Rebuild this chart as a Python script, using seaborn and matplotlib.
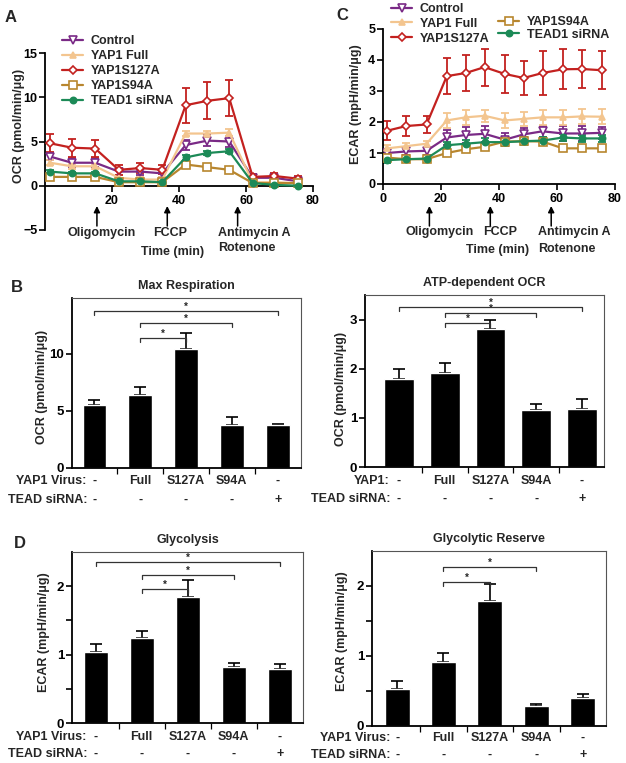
import numpy as np
import pandas as pd
import matplotlib
matplotlib.use('Agg')
import matplotlib.pyplot as plt
import seaborn as sns
from matplotlib import font_manager
from matplotlib.lines import Line2D
from matplotlib.transforms import blended_transform_factory

# time course (min) shared by the seahorse traces
times = [1.5, 8, 15, 22, 28.5, 35, 42, 48.5, 55, 62, 68.5, 75.5]
groups = ['Control', 'YAP1 Full', 'YAP1S127A', 'YAP1S94A', 'TEAD1 siRNA']

# panel A - OCR
ocr_control = [3.3, 2.6, 2.6, 1.6, 1.6, 1.4, 4.6, 5.1, 5.0, 0.9, 0.9, 0.5]
ocr_full = [2.6, 2.2, 2.2, 0.9, 0.7, 0.7, 5.9, 5.9, 6.0, 0.4, 0.4, 0.3]
ocr_s127a = [4.8, 4.3, 4.2, 1.8, 2.0, 1.8, 9.1, 9.6, 9.9, 1.0, 1.1, 0.8]
ocr_s94a = [1.0, 1.0, 1.0, 0.4, 0.4, 0.4, 2.4, 2.1, 1.8, 0.3, 0.3, 0.3]
ocr_tead = [1.6, 1.4, 1.4, 0.5, 0.5, 0.4, 3.2, 3.7, 3.9, 0.3, 0.1, 0.0]
ocr_control_err = [0.4, 0.5, 0.5, 0.4, 0.4, 0.4, 0.6, 0.6, 0.6, 0.3, 0.3, 0.3]
ocr_full_err = [0.3, 0.3, 0.3, 0.3, 0.3, 0.3, 0.3, 0.3, 0.4, 0.2, 0.2, 0.2]
ocr_s127a_err = [1.0, 1.0, 1.0, 0.6, 0.6, 0.5, 2.0, 2.1, 2.0, 0.3, 0.3, 0.3]
ocr_s94a_err = [0.2, 0.2, 0.2, 0.1, 0.1, 0.1, 0.2, 0.2, 0.2, 0.1, 0.1, 0.1]
ocr_tead_err = [0.2, 0.2, 0.2, 0.2, 0.2, 0.2, 0.3, 0.2, 0.2, 0.1, 0.1, 0.1]

# panel C - ECAR
ecar_control = [1.0, 1.05, 1.07, 1.5, 1.58, 1.62, 1.43, 1.6, 1.7, 1.63, 1.63, 1.65]
ecar_full = [1.15, 1.22, 1.3, 2.05, 2.15, 2.2, 2.05, 2.1, 2.15, 2.15, 2.18, 2.17]
ecar_s127a = [1.72, 1.87, 1.92, 3.48, 3.58, 3.77, 3.55, 3.42, 3.58, 3.70, 3.71, 3.67]
ecar_s94a = [0.85, 0.8, 0.8, 1.0, 1.12, 1.2, 1.37, 1.38, 1.37, 1.15, 1.15, 1.15]
ecar_tead = [0.77, 0.8, 0.82, 1.25, 1.3, 1.35, 1.35, 1.38, 1.4, 1.5, 1.47, 1.47]
ecar_control_err = [0.1, 0.12, 0.12, 0.25, 0.25, 0.25, 0.2, 0.2, 0.18, 0.25, 0.25, 0.2]
ecar_full_err = [0.1, 0.1, 0.1, 0.25, 0.25, 0.2, 0.25, 0.22, 0.25, 0.25, 0.25, 0.25]
ecar_s127a_err = [0.3, 0.33, 0.28, 0.57, 0.58, 0.6, 0.6, 0.55, 0.7, 0.65, 0.62, 0.62]
ecar_s94a_err = [0.05, 0.05, 0.05, 0.06, 0.06, 0.06, 0.08, 0.08, 0.06, 0.06, 0.06, 0.06]
ecar_tead_err = [0.08, 0.08, 0.08, 0.12, 0.12, 0.12, 0.12, 0.12, 0.12, 0.12, 0.12, 0.12]

# bar panels
virus_labels = ['-', 'Full', 'S127A', 'S94A', '-']
sirna_labels = ['-', '-', '-', '-', '+']
max_resp = [5.5, 6.4, 10.4, 3.8, 3.8]
max_resp_err = [0.5, 0.7, 1.4, 0.65, 0.1]
atp_ocr = [1.8, 1.92, 2.8, 1.17, 1.18]
atp_ocr_err = [0.2, 0.2, 0.2, 0.12, 0.2]
glycolysis = [1.04, 1.25, 1.84, 0.82, 0.79]
glycolysis_err = [0.12, 0.1, 0.25, 0.05, 0.07]
gly_reserve = [0.53, 0.91, 1.78, 0.28, 0.40]
gly_reserve_err = [0.11, 0.14, 0.25, 0.03, 0.06]

injections_a = [15.5, 36.5, 57.5]
injections_c = [16, 37, 58]

sns.set_theme(style='ticks')

# pick the first sans family that really has a bold face installed
family = 'DejaVu Sans'
for cand in ['Liberation Sans', 'Roboto', 'Open Sans', 'Lato', 'Inter', 'Noto Sans']:
    try:
        path = font_manager.findfont(font_manager.FontProperties(family=cand, weight='bold'),
                                     fallback_to_default=False)
    except Exception:
        continue
    if 'bold' in path.lower():
        family = cand
        break

plt.rcParams['font.family'] = [family, 'DejaVu Sans']
plt.rcParams['font.weight'] = 'bold'
plt.rcParams['axes.linewidth'] = 1.3
plt.rcParams['xtick.major.width'] = 1.2
plt.rcParams['ytick.major.width'] = 1.2
plt.rcParams['xtick.major.size'] = 4
plt.rcParams['ytick.major.size'] = 4
plt.rcParams['xtick.major.pad'] = 2.5
plt.rcParams['ytick.major.pad'] = 1.5
plt.rcParams['xtick.color'] = 'black'
plt.rcParams['ytick.color'] = 'black'
plt.rcParams['axes.edgecolor'] = 'black'

W, H = 626, 763
fig = plt.figure(figsize=(W / 100, H / 100), dpi=100)


def fx(px):
    return px / W


def fy(py):
    return 1 - py / H


def add_ax(left, right, top, bottom):
    return fig.add_axes([fx(left), fy(bottom), (right - left) / W, (bottom - top) / H])


colors = ['#7a2a86', '#f3c58f', '#c3211f', '#b8862e', '#1c8a57']
markers = ['v', '^', 'D', 's', 'o']
open_marker = [True, False, True, True, False]
msizes = [5.5, 4.5, 4.5, 5.5, 4.5]
FS = 9


def line_panel(ax, series, errs):
    for i, g in enumerate(groups):
        c = colors[i]
        ax.errorbar(times, series[i], yerr=errs[i], fmt='none', ecolor=c,
                    elinewidth=1.3, capsize=3, capthick=1.3, zorder=2)
        sns.lineplot(x=times, y=series[i], ax=ax, color=c, lw=1.6,
                     marker=markers[i], markersize=msizes[i],
                     markerfacecolor='white' if open_marker[i] else c,
                     markeredgecolor=c, markeredgewidth=1.2, zorder=3)
    ax.set_xlabel('')
    ax.set_ylabel('')
    ax.spines['top'].set_visible(False)
    ax.spines['right'].set_visible(False)
    ax.tick_params(labelsize=FS)
    for t in ax.get_xticklabels() + ax.get_yticklabels():
        t.set_fontweight('bold')


def legend_handles(idx):
    return [Line2D([0], [0], color=colors[i], lw=1.6, marker=markers[i],
                   markersize=msizes[i],
                   markerfacecolor='white' if open_marker[i] else colors[i],
                   markeredgecolor=colors[i], markeredgewidth=1.2) for i in idx]


# ---- panel A
axA = add_ax(45, 313, 53, 230)
line_panel(axA, [ocr_control, ocr_full, ocr_s127a, ocr_s94a, ocr_tead],
           [ocr_control_err, ocr_full_err, ocr_s127a_err, ocr_s94a_err, ocr_tead_err])
axA.set_xlim(0, 80)
axA.set_ylim(-5, 15)
axA.spines['bottom'].set_position(('data', 0))
axA.set_xticks([20, 40, 60, 80])
axA.set_yticks([-5, 0, 5, 10, 15])
leg = axA.legend(legend_handles(range(5)), groups, loc='upper left',
                 bbox_to_anchor=(fx(62), fy(35)), bbox_transform=fig.transFigure,
                 frameon=False, handlelength=1.7, handletextpad=0.6,
                 labelspacing=0.24, borderpad=0, borderaxespad=0,
                 prop={'size': FS, 'weight': 'bold'})
fig.text(fx(19), fy(126), 'OCR (pmol/min/\u03bcg)', rotation=90, ha='center',
         va='center', fontsize=FS, fontweight='bold')

# ---- panel C
axC = add_ax(383, 615, 29, 184)
line_panel(axC, [ecar_control, ecar_full, ecar_s127a, ecar_s94a, ecar_tead],
           [ecar_control_err, ecar_full_err, ecar_s127a_err, ecar_s94a_err, ecar_tead_err])
axC.set_xlim(0, 80)
axC.set_ylim(0, 5)
axC.set_xticks([0, 20, 40, 60, 80])
axC.set_yticks([0, 1, 2, 3, 4, 5])
legC1 = axC.legend(legend_handles([0, 1, 2]), groups[:3], loc='upper left',
                   bbox_to_anchor=(fx(391), fy(3)), bbox_transform=fig.transFigure,
                   frameon=False, handlelength=1.7, handletextpad=0.6,
                   labelspacing=0.22, borderpad=0, borderaxespad=0,
                   prop={'size': FS, 'weight': 'bold'})
axC.add_artist(legC1)
axC.legend(legend_handles([3, 4]), groups[3:], loc='upper left',
           bbox_to_anchor=(fx(498), fy(16)), bbox_transform=fig.transFigure,
           frameon=False, handlelength=1.7, handletextpad=0.6,
           labelspacing=0.05, borderpad=0, borderaxespad=0,
           prop={'size': FS, 'weight': 'bold'})
fig.text(fx(356), fy(104), 'ECAR (mpH/min/\u03bcg)', rotation=90, ha='center',
         va='center', fontsize=FS, fontweight='bold')

# injection arrows + labels
for ax, inj in [(axA, injections_a), (axC, injections_c)]:
    tr = blended_transform_factory(ax.transData, fig.transFigure)
    for x in inj:
        ax.annotate('', xy=(x, fy(206)), xytext=(x, fy(226)), xycoords=tr,
                    textcoords=tr, annotation_clip=False,
                    arrowprops=dict(arrowstyle='-|>', color='black', lw=1.1,
                                    mutation_scale=9, shrinkA=0, shrinkB=0))

for txt, px, py, ha in [('Oligomycin', 102, 233, 'center'), ('FCCP', 170, 233, 'center'),
                        ('Antimycin A', 218, 233, 'left'), ('Rotenone', 218, 248, 'left'),
                        ('Time (min)', 173, 252, 'center'),
                        ('Oligomycin', 440, 232, 'center'), ('FCCP', 500, 232, 'center'),
                        ('Antimycin A', 538, 232, 'left'), ('Rotenone', 538, 249, 'left'),
                        ('Time (min)', 498, 250, 'center')]:
    fig.text(fx(px), fy(py), txt, ha=ha, va='center', fontsize=FS, fontweight='bold')


# ---- bar panels
def bar_panel(box, vals, errs, ylim, yticks, ylabels, width, xlim, title,
              brackets, ylab, ylab_pos, head1, head_x, rows_y):
    left, right, top, bottom = box
    ax = add_ax(left, right, top, bottom)
    df = pd.DataFrame({'cond': list(range(len(vals))), 'val': vals})
    sns.barplot(data=df, x='cond', y='val', color='black', saturation=1,
                width=width, errorbar=None, ax=ax, zorder=2)
    ax.errorbar(range(len(vals)), vals, yerr=[[0] * len(errs), errs], fmt='none',
                ecolor='black', elinewidth=1.2, capsize=4, capthick=1.2, zorder=1)
    ax.set_xlim(*xlim)
    ax.set_ylim(*ylim)
    ax.set_xticks([0.5, 1.5, 2.5, 3.5])
    ax.set_xticklabels([])
    ax.set_yticks(yticks)
    ax.set_yticklabels(ylabels, fontsize=FS + 0.5, fontweight='bold')
    ax.set_xlabel('')
    ax.set_ylabel('')
    for s in ['top', 'right']:
        ax.spines[s].set_linewidth(0.8)
        ax.spines[s].set_color('#555555')
    ax.tick_params(axis='x', length=4, width=0.9)
    # significance brackets
    span = ylim[1] - ylim[0]
    tick = span * 4.0 / (bottom - top)
    for i, j, y in brackets:
        ax.plot([i, i, j, j], [y - tick, y, y, y - tick], color='#333333', lw=0.9,
                zorder=3, clip_on=False)
        ax.text((i + j) / 2, y - span * 0.005, '*', ha='center', va='bottom',
                fontsize=7, fontweight='bold')
    fig.text(fx((left + right) / 2), fy(top - 12), title, ha='center', va='center',
             fontsize=FS, fontweight='bold')
    fig.text(fx(ylab_pos[0]), fy(ylab_pos[1]), ylab, rotation=90, ha='center',
             va='center', fontsize=FS, fontweight='bold')
    tr = blended_transform_factory(ax.transData, fig.transFigure)
    for k in range(len(vals)):
        ax.text(k, fy(rows_y[0]), virus_labels[k], transform=tr, ha='center',
                va='center', fontsize=FS, fontweight='bold')
        ax.text(k, fy(rows_y[1]), sirna_labels[k], transform=tr, ha='center',
                va='center', fontsize=FS, fontweight='bold')
    fig.text(fx(head_x), fy(rows_y[0]), head1, ha='right', va='center',
             fontsize=FS, fontweight='bold')
    fig.text(fx(head_x + 1), fy(rows_y[1]), 'TEAD siRNA:', ha='right', va='center',
             fontsize=FS, fontweight='bold')
    return ax


bar_panel((72, 301, 298, 468), max_resp, max_resp_err, (0, 14.9), [0, 5, 10],
          ['0', '5', '10'], 0.52, (-0.49, 4.51), 'Max Respiration',
          [(1, 2, 11.4), (1, 3, 12.7), (0, 4, 13.8)], 'OCR (pmol/min/\u03bcg)',
          (42, 387), 'YAP1 Virus:', 86, (481, 500))

bar_panel((365, 604, 295, 467), atp_ocr, atp_ocr_err, (0, 3.5), [0, 1, 2, 3],
          ['0', '1', '2', '3'], 0.65, (-0.74, 4.48), 'ATP-dependent OCR',
          [(1, 2, 2.93), (1, 3, 3.13), (0, 4, 3.25)], 'OCR (pmol/min/\u03bcg)',
          (341, 389), 'YAP1:', 390, (481, 499))

bar_panel((72, 303, 552, 723), glycolysis, glycolysis_err, (0, 2.5),
          [0, 0.5, 1, 1.5, 2], ['0', '', '1', '', '2'], 0.52, (-0.51, 4.5), 'Glycolysis',
          [(1, 2, 1.96), (1, 3, 2.17), (0, 4, 2.35)], 'ECAR (mpH/min/\u03bcg)',
          (44, 632), 'YAP1 Virus:', 86, (737, 754))

bar_panel((372, 606, 551, 726), gly_reserve, gly_reserve_err, (0, 2.5),
          [0, 0.5, 1, 1.5, 2], ['0', '', '1', '', '2'], 0.54, (-0.54, 4.5),
          'Glycolytic Reserve', [(1, 2, 2.06), (1, 3, 2.27)], 'ECAR (mpH/min/\u03bcg)',
          (342, 631), 'YAP1 Virus:', 390, (738, 755))

# panel letters
for letter, px, py in [('A', 11, 17), ('B', 17, 287), ('C', 342, 15), ('D', 20, 543)]:
    fig.text(fx(px), fy(py), letter, ha='center', va='center', fontsize=12,
             fontweight='bold')

fig.savefig('out.png', dpi=100)
